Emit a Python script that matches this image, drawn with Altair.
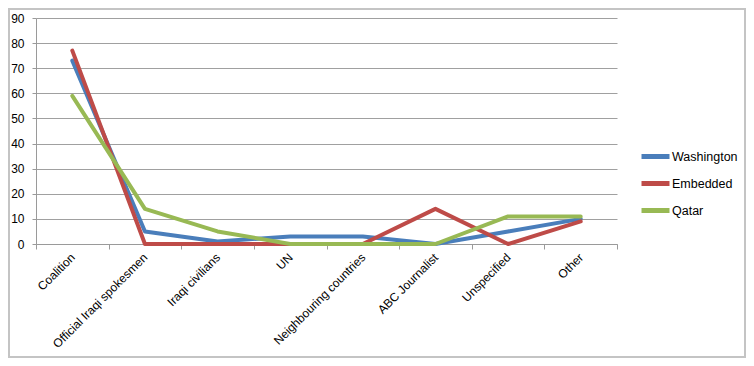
import altair as alt
import pandas as pd

categories = ["Coalition", "Official Iraqi spokesmen", "Iraqi civilians", "UN",
              "Neighbouring countries", "ABC Journalist", "Unspecified", "Other"]
series = ["Washington", "Embedded", "Qatar"]
washington = [73, 5, 1, 3, 3, 0, 5, 10]
embedded = [77, 0, 0, 0, 0, 14, 0, 9]
qatar = [59, 14, 5, 0, 0, 0, 11, 11]
colors = ["#4A7EBB", "#BE4B48", "#98B954"]
y_ticks = [0, 10, 20, 30, 40, 50, 60, 70, 80, 90]

rows = []
for name, vals in zip(series, [washington, embedded, qatar]):
    for i, (c, v) in enumerate(zip(categories, vals)):
        rows.append({"source": c, "series": name, "value": v, "order": i})
df = pd.DataFrame(rows)

W, H = 581, 226
PAD_L, PAD_T, PAD_R, PAD_B = 28, 10, 129, 114
FONT = "Liberation Sans"

lines = alt.Chart(df).mark_line(strokeWidth=4, strokeCap="round", strokeJoin="round").encode(
    x=alt.X("source:N", sort=categories,
            scale=alt.Scale(type="band", paddingInner=0, paddingOuter=0),
            axis=alt.Axis(title=None, labelAngle=-45, labelAlign="right", labelBaseline="middle",
                          tickBand="extent", tickSize=5, labelPadding=6, grid=False,
                          domainColor="#9a9a9a", tickColor="#9a9a9a",
                          labelFont=FONT, labelFontSize=12, labelColor="#000")),
    y=alt.Y("value:Q", scale=alt.Scale(domain=[0, 90], nice=False),
            axis=alt.Axis(title=None, values=y_ticks, tickSize=4, labelPadding=8,
                          grid=True, gridColor="#a0a0a0", domainColor="#9a9a9a", tickColor="#9a9a9a",
                          labelFont=FONT, labelFontSize=12, labelColor="#000")),
    color=alt.Color("series:N", sort=series,
                    scale=alt.Scale(domain=series, range=colors),
                    legend=alt.Legend(title=None, orient="none", legendX=603, legendY=122,
                                      symbolType="stroke", symbolSize=784, symbolStrokeWidth=5,
                                      rowPadding=0, labelOffset=0,
                                      labelFont=FONT, labelFontSize=12.5, labelColor="#000")),
    order=alt.Order("order:Q"),
)

frame = alt.Chart(df).mark_rect(fill=None, stroke="#c4c4c4", strokeWidth=2).encode(
    x=alt.value(-PAD_L + 1), x2=alt.value(W + PAD_R - 1),
    y=alt.value(-PAD_T + 1), y2=alt.value(H + PAD_B - 1),
)

chart = alt.layer(lines, frame).properties(
    width=W, height=H,
    autosize=alt.AutoSizeParams(type="none"),
    padding={"left": PAD_L, "top": PAD_T, "right": PAD_R, "bottom": PAD_B},
).configure_view(stroke=None)

chart.save("out.html", embed_options={"renderer": "svg", "actions": False})
